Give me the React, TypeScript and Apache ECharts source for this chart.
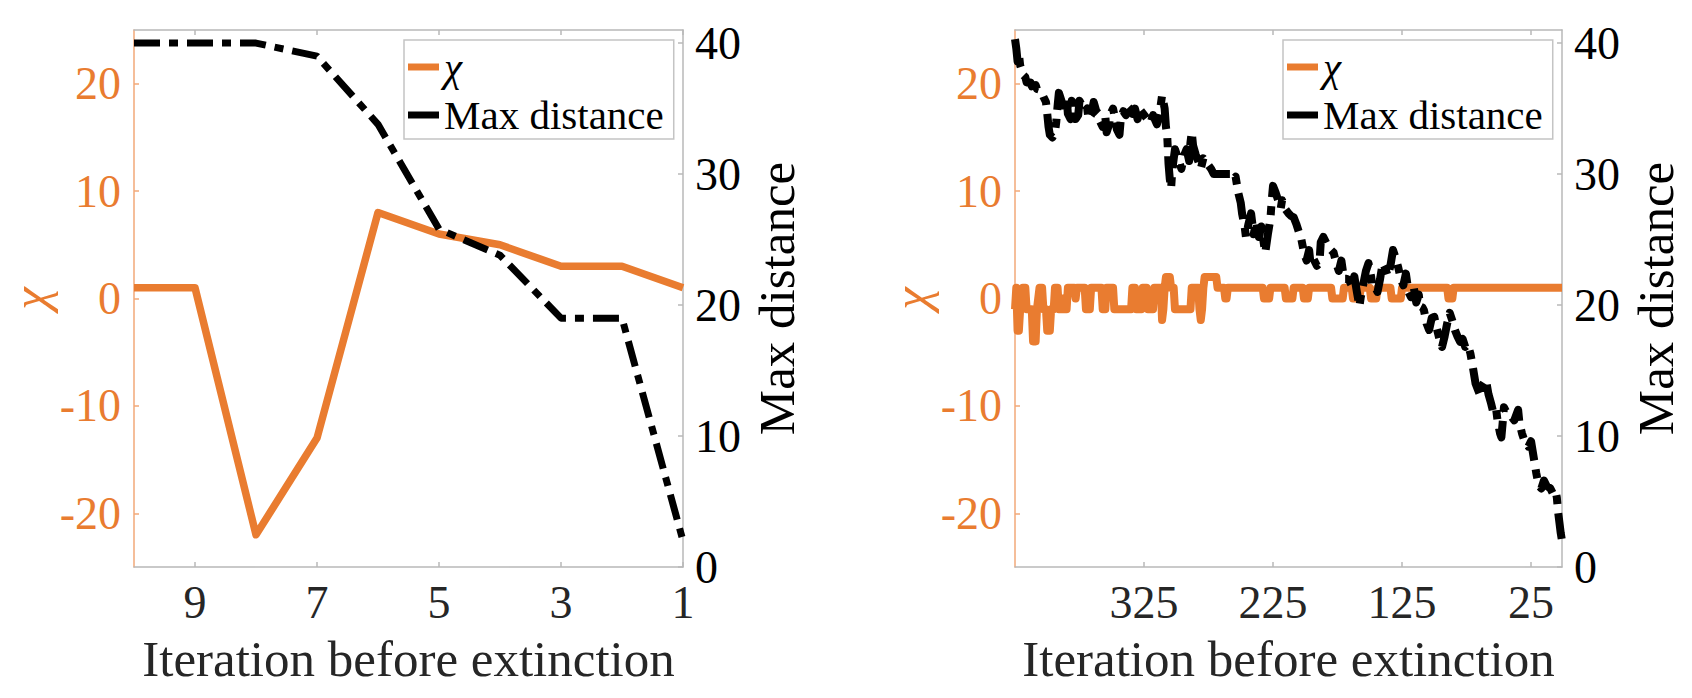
import React, { useEffect, useRef } from "react";
import * as echarts from "echarts";

// ---- data -------------------------------------------------------------
// Short run: last ten iterations before extinction
const SHORT_ITER = [10, 9, 8, 7, 6, 5, 4, 3, 2, 1];
const SHORT_CHI = [1, 1, -22, -13, 8, 6, 5, 3, 3, 1];
const SHORT_DIST = [40, 40, 40, 39, 33.8, 25.8, 23.8, 19, 19, 2];

// Long run: [iteration before extinction, Euler characteristic]
const LONG_CHI: [number, number][] = [
  [425, -1], [424, 1], [423, -3], [422, -3], [421, -1], [419, 1], [417, 1], [416, -1],
  [412, -1], [411, -4], [409, -4], [408, -1], [406, 1], [404, 1], [403, -1], [401, -1],
  [400, -3], [398, -3], [397, -1], [395, -1], [394, 1], [392, 1], [391, -1], [389, -1],
  [388, 0], [387, -1], [385, -1], [384, 1], [379, 1], [378, 0], [377, 1], [371, 1],
  [370, -1], [367, -1], [366, 1], [358, 1], [357, -1], [355, -1], [354, 1], [349, 1],
  [348, -1], [335, -1], [334, 1], [332, 1], [331, -1], [327, -1], [326, 1], [323, 1],
  [322, -1], [318, -1], [317, 1], [312, 1], [311, -2], [310, -1], [309, 1], [308, 2],
  [305, 2], [304, 1], [302, 1], [301, -1], [289, -1], [288, 1], [283, 1], [282, -1],
  [281, -2], [280, -1], [279, 1], [278, 2], [269, 2], [268, 1], [263, 1], [262, 0],
  [261, 0], [260, 1], [233, 1], [232, 0], [228, 0], [227, 1], [216, 1], [215, 0],
  [210, 0], [209, 1], [202, 1], [201, 0], [198, 0], [197, 1], [180, 1], [179, 0],
  [171, 0], [170, 1], [164, 1], [163, 0], [158, 0], [157, 1], [150, 1], [149, 0],
  [145, 0], [144, 1], [134, 1], [133, 0], [126, 0], [125, 1], [90, 1], [89, 0],
  [86, 0], [85, 1], [1, 1],
];

// Long run: [iteration before extinction, max distance]
const LONG_DIST: [number, number][] = [
  [425, 40.3], [424, 39.6], [423, 38.6], [422, 39.2], [421, 38.3], [420, 38.0], [419, 37.6],
  [417, 37.4], [416, 37.0], [413, 37.0], [412, 36.7], [409, 36.8], [408, 36.5], [405, 36.4],
  [403, 35.9], [401, 35.5], [400, 34.6], [399, 33.6], [398, 33.0], [396, 32.8], [394, 33.2],
  [393, 34.0], [392, 35.2], [391, 36.2], [389, 35.6], [388, 34.9], [387, 35.8], [385, 35.9],
  [384, 34.6], [382, 34.2], [381, 35.6], [379, 35.2], [378, 34.2], [376, 34.5], [375, 35.6],
  [373, 35.2], [371, 34.8], [369, 35.0], [368, 34.2], [366, 34.5], [364, 35.5], [362, 34.8],
  [360, 34.6], [359, 34.0], [357, 33.6], [355, 34.4], [354, 33.2], [352, 33.8], [351, 34.6],
  [349, 35.0], [348, 34.5], [346, 33.4], [344, 33.0], [343, 34.2], [341, 34.8], [339, 34.5],
  [338, 35.2], [336, 35.0], [334, 34.6], [332, 35.0], [330, 34.2], [328, 34.9], [324, 34.4],
  [320, 33.9], [318, 34.5], [315, 33.8], [313, 34.6], [311, 36.0], [309, 35.0], [308, 33.6],
  [307, 32.9], [306, 30.8], [305, 29.6], [304, 28.9], [303, 30.4], [301, 31.9], [298, 31.0],
  [296, 30.4], [294, 31.4], [292, 31.9], [290, 31.0], [289, 32.4], [288, 33.2], [287, 32.2],
  [285, 31.5], [283, 31.0], [281, 30.4], [279, 31.2], [276, 30.8], [273, 30.4], [271, 30.0],
  [262, 30.0], [258, 30.0], [256, 29.6], [254, 29.8], [252, 28.6], [250, 27.8], [249, 27.0],
  [247, 26.0], [246, 25.2], [244, 26.2], [242, 27.0], [240, 25.4], [238, 26.4], [236, 25.2],
  [234, 26.0], [232, 24.6], [231, 24.0], [229, 25.4], [227, 26.6], [226, 28.0], [225, 29.1],
  [223, 28.6], [221, 28.0], [219, 27.4], [218, 28.0], [216, 27.4], [213, 27.0], [211, 26.8],
  [209, 26.7], [207, 26.2], [205, 25.6], [203, 25.0], [201, 24.0], [199, 23.4], [197, 24.2],
  [196, 23.2], [194, 23.6], [191, 23.0], [189, 23.2], [188, 24.8], [186, 25.2], [183, 24.6],
  [180, 24.2], [178, 24.0], [176, 23.2], [174, 22.6], [172, 23.4], [170, 22.0], [168, 22.0],
  [166, 21.9], [164, 21.5], [162, 22.2], [160, 21.0], [158, 19.9], [157, 20.6], [155, 21.6],
  [153, 22.6], [151, 23.2], [149, 22.2], [148, 21.4], [146, 21.4], [144, 21.0], [142, 22.0],
  [140, 23.2], [138, 22.8], [136, 22.2], [134, 23.0], [132, 24.2], [130, 23.6], [128, 22.9],
  [126, 22.0], [124, 21.5], [122, 22.4], [120, 21.0], [118, 20.6], [116, 21.4], [114, 20.2],
  [112, 20.8], [111, 19.9], [109, 19.8], [108, 19.6], [106, 18.6], [104, 18.1], [102, 19.0],
  [100, 19.1], [98, 18.2], [96, 17.4], [94, 16.8], [92, 17.6], [90, 18.6], [88, 19.4],
  [86, 18.8], [84, 18.1], [82, 17.6], [80, 17.2], [78, 17.4], [76, 16.8], [74, 17.0],
  [72, 16.3], [70, 15.2], [68, 14.0], [66, 13.5], [64, 13.0], [62, 14.0], [60, 14.3],
  [58, 13.2], [56, 12.5], [54, 11.7], [52, 12.0], [51, 11.2], [49, 10.2], [48, 9.9],
  [47, 11.0], [46, 12.2], [44, 11.8], [41, 11.6], [38, 11.2], [35, 12.0], [34, 11.0],
  [32, 10.2], [30, 9.6], [27, 9.2], [25, 9.6], [23, 8.4], [21, 7.2], [19, 6.2], [17, 6.0],
  [15, 6.6], [13, 6.2], [10, 6.0], [8, 5.6], [6, 5.8], [5, 5.3], [4, 4.2], [3, 3.4],
  [2, 2.6], [1, 2.0],
];

const SHORT_X_TICKS = [9, 7, 5, 3, 1];
const LONG_X_TICKS = [325, 225, 125, 25];
const CHI_TICKS = [-20, -10, 0, 10, 20];
const DIST_TICKS = [0, 10, 20, 30, 40];

// ---- styling ----------------------------------------------------------
const ORANGE = "#E97C30";
const ORANGE_AXIS = "#F2A878";
const FRAME = "#B8B8B8";
const INK = "#262626";
const FONT = "Liberation Serif";
const TICK_SIZE = 46;
const LABEL_SIZE = 51;
const LEGEND_SIZE = 41;
const DASH = [26, 9, 9, 9];

const PANELS = [
  { left: 134, width: 549, xMin: 1, xMax: 10, xTicks: SHORT_X_TICKS, legendLeft: 404 },
  { left: 1015, width: 547, xMin: 1, xMax: 425, xTicks: LONG_X_TICKS, legendLeft: 1283 },
];
const TOP = 30;
const HEIGHT = 537;

function buildOption() {
  const grid = PANELS.map((p) => ({ left: p.left, top: TOP, width: p.width, height: HEIGHT }));

  const xAxis: any[] = [];
  const yAxis: any[] = [];
  PANELS.forEach((p, i) => {
    // bottom axis with labels
    xAxis.push({
      type: "value",
      gridIndex: i,
      position: "bottom",
      inverse: true,
      min: p.xMin,
      max: p.xMax,
      name: "Iteration before extinction",
      nameLocation: "middle",
      nameGap: 66,
      nameTextStyle: { fontFamily: FONT, fontSize: LABEL_SIZE, color: INK },
      axisLine: { show: true, onZero: false, lineStyle: { color: FRAME, width: 1.5 } },
      axisTick: { show: true, inside: true, length: 5, customValues: p.xTicks, lineStyle: { color: FRAME, width: 1.5 } },
      axisLabel: { customValues: p.xTicks, fontFamily: FONT, fontSize: TICK_SIZE, color: INK, margin: 12 },
      splitLine: { show: false },
    });
    // mirrored top axis (box)
    xAxis.push({
      type: "value",
      gridIndex: i,
      position: "top",
      inverse: true,
      min: p.xMin,
      max: p.xMax,
      axisLine: { show: true, onZero: false, lineStyle: { color: FRAME, width: 1.5 } },
      axisTick: { show: true, inside: true, length: 5, customValues: p.xTicks, lineStyle: { color: FRAME, width: 1.5 } },
      axisLabel: { show: false },
      splitLine: { show: false },
    });
    // left axis: chi
    yAxis.push({
      type: "value",
      gridIndex: i,
      position: "left",
      min: -25,
      max: 25,
      name: "χ",
      nameLocation: "middle",
      nameRotate: 90,
      nameGap: 72,
      nameTextStyle: { fontFamily: FONT, fontSize: LABEL_SIZE, color: ORANGE, fontStyle: "italic" },
      axisLine: { show: true, onZero: false, lineStyle: { color: ORANGE_AXIS, width: 1.5 } },
      axisTick: { show: true, inside: true, length: 5, customValues: CHI_TICKS, lineStyle: { color: ORANGE_AXIS, width: 1.5 } },
      axisLabel: { customValues: CHI_TICKS, fontFamily: FONT, fontSize: TICK_SIZE, color: ORANGE, margin: 13 },
      splitLine: { show: false },
    });
    // right axis: max distance
    yAxis.push({
      type: "value",
      gridIndex: i,
      position: "right",
      min: 0,
      max: 41,
      name: "Max distance",
      nameLocation: "middle",
      nameRotate: 90,
      nameGap: 68,
      nameTextStyle: { fontFamily: FONT, fontSize: LABEL_SIZE, color: "#000" },
      axisLine: { show: true, onZero: false, lineStyle: { color: FRAME, width: 1.5 } },
      axisTick: { show: true, inside: true, length: 5, customValues: DIST_TICKS, lineStyle: { color: FRAME, width: 1.5 } },
      axisLabel: { customValues: DIST_TICKS, fontFamily: FONT, fontSize: TICK_SIZE, color: "#000", margin: 12 },
      splitLine: { show: false },
    });
  });

  const chiLine = (data: number[][], xi: number, yi: number, width: number) => ({
    type: "line",
    name: "χ",
    xAxisIndex: xi,
    yAxisIndex: yi,
    data,
    symbol: "none",
    color: ORANGE,
    lineStyle: { color: ORANGE, width, join: "round" },
    z: 2,
  });
  const distLine = (data: number[][], xi: number, yi: number, width: number) => ({
    type: "line",
    name: "Max distance",
    xAxisIndex: xi,
    yAxisIndex: yi,
    data,
    symbol: "none",
    color: "#000",
    lineStyle: { color: "#000", width, type: DASH, join: "round" },
    z: 3,
  });

  const series = [
    chiLine(SHORT_ITER.map((x, k) => [x, SHORT_CHI[k]]), 0, 0, 7.5),
    distLine(SHORT_ITER.map((x, k) => [x, SHORT_DIST[k]]), 0, 1, 7),
    chiLine(LONG_CHI, 2, 2, 8),
    distLine(LONG_DIST, 2, 3, 8),
  ];

  const legend = PANELS.map((p) => ({
    left: p.legendLeft,
    top: 40,
    orient: "vertical",
    selectedMode: false,
    data: [
      { name: "χ", icon: "rect" },
      { name: "Max distance", icon: "rect" },
    ],
    formatter: (name: string) => (name === "χ" ? "{chi|χ}" : name),
    itemWidth: 31,
    itemHeight: 7,
    itemGap: 4,
    padding: [5, 10, 2, 4],
    borderColor: "#C4C4C4",
    borderWidth: 1.5,
    backgroundColor: "#fff",
    textStyle: {
      fontFamily: FONT,
      fontSize: LEGEND_SIZE,
      color: "#000",
      lineHeight: 44,
      rich: {
        chi: { fontFamily: FONT, fontSize: LEGEND_SIZE, fontStyle: "italic", color: "#000", lineHeight: 44 },
      },
    },
  }));

  return {
    animation: false,
    backgroundColor: "#fff",
    grid,
    xAxis,
    yAxis,
    legend,
    series,
  };
}

export default function App() {
  const ref = useRef<HTMLDivElement | null>(null);
  useEffect(() => {
    if (!ref.current) return;
    const chart = echarts.init(ref.current, undefined, { renderer: "svg" });
    chart.setOption(buildOption() as any);
    return () => chart.dispose();
  }, []);
  return (
    <div
      ref={ref}
      style={{ position: "fixed", left: 0, top: 0, width: 1692, height: 698, background: "#fff" }}
    />
  );
}
